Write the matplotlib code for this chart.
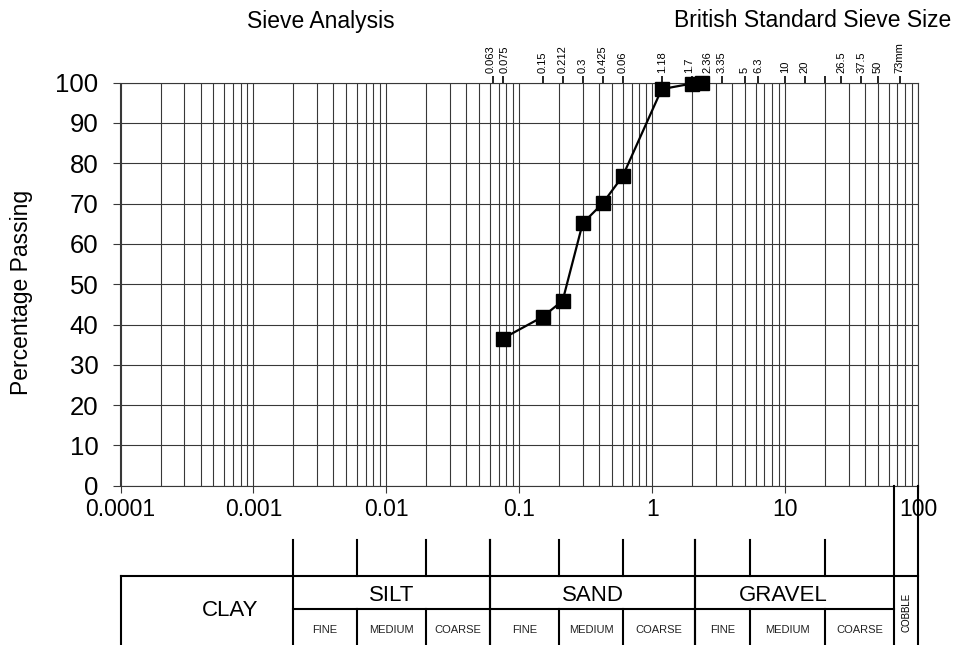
import matplotlib.pyplot as plt
import matplotlib.transforms as mtransforms
import numpy as np
from matplotlib.ticker import FixedLocator, NullLocator, LogLocator, NullFormatter

plt.rcParams['font.family'] = ['Liberation Sans', 'DejaVu Sans']

# grading curve
sieve_mm = [0.075, 0.15, 0.212, 0.3, 0.425, 0.6, 1.18, 2.0, 2.36]
passing = [36.5, 41.9, 45.9, 65.1, 70.1, 76.8, 98.4, 99.8, 100.0]

# british standard sieve ticks along the top (labels as printed)
top_ticks = [0.063, 0.075, 0.15, 0.212, 0.3, 0.425, 0.6, 1.18, 2.0, 2.36,
             3.35, 5, 6.3, 10, 14, 20, 26.5, 37.5, 50, 73]
top_labels = ['0.063', '0.075', '0.15', '0.212', '0.3', '0.425', '0.06', '1.18',
              '1.7', '2.36', '3.35', '5', '6.3', '10', '20', '', '26.5', '37.5',
              '50', '73mm']

x_ticks = [0.0001, 0.001, 0.01, 0.1, 1, 10, 100]
x_labels = ['0.0001', '0.001', '0.01', '0.1', '1', '10', '100']
y_ticks = list(range(0, 101, 10))

# soil classification bands
band_names = ['SILT', 'SAND', 'GRAVEL']
band_edges = [[0.002, 0.006, 0.02, 0.06],
              [0.06, 0.2, 0.6, 2.1],
              [2.1, 5.4, 20, 66]]
band_label_x = [0.011, 0.36, 9.7]
sub_names = ['FINE', 'MEDIUM', 'COARSE']

W, H = 956, 645
fig = plt.figure(figsize=(W / 100, H / 100), dpi=100)


def fy(p):
    # pixel row -> figure fraction
    return 1 - p / H


x0, x1 = 120.5, 918
ytop, ybot = 82.7, 485.7
ax = fig.add_axes([x0 / W, fy(ybot), (x1 - x0) / W, (ybot - ytop) / H])
gcol = '#383838'

ax.set_xscale('log')
ax.set_xlim(1e-4, 100)
ax.set_ylim(0, 100)
ax.xaxis.set_major_locator(FixedLocator(x_ticks))
ax.set_xticklabels(x_labels)
ax.xaxis.set_minor_locator(LogLocator(base=10, subs=np.arange(2, 10), numticks=100))
ax.xaxis.set_minor_formatter(NullFormatter())
ax.set_yticks(y_ticks)
ax.grid(True, which='both', color=gcol, lw=0.8)
ax.tick_params(axis='x', which='major', length=5, width=0.8, color=gcol,
               labelsize=16.5, pad=4)
ax.tick_params(axis='x', which='minor', length=0)
ax.tick_params(axis='y', length=5, width=0.8, color=gcol, labelsize=18.5, pad=11)
for s in ax.spines.values():
    s.set_color(gcol)
    s.set_linewidth(0.8)

ax.plot(sieve_mm, passing, color='black', lw=1.6, marker='s', ms=9.5,
        mfc='black', mec='black', zorder=5, clip_on=False)

# top axis with sieve sizes
top = ax.twiny()
top.set_xscale('log')
top.set_xlim(1e-4, 100)
top.xaxis.set_major_locator(FixedLocator(top_ticks))
top.set_xticklabels(top_labels, rotation=90, fontsize=8)
top.xaxis.set_minor_locator(NullLocator())
top.tick_params(axis='x', length=5, width=1.2, color='black', pad=2)
for s in top.spines.values():
    s.set_visible(False)

# nudge the crowded labels apart a little (pixels)
nudge = {'0.063': -2, '0.075': 2, '1.7': -3, '2.36': 6}
for lab in top.get_xticklabels():
    dx = nudge.get(lab.get_text(), 0)
    if dx:
        lab.set_transform(lab.get_transform() +
                          mtransforms.ScaledTranslation(dx / 100, 0, fig.dpi_scale_trans))

fig.text(22 / W, fy(292), 'Percentage Passing', rotation=90, ha='center',
         va='center', fontsize=16.5)
fig.text(321 / W, fy(28), 'Sieve Analysis', ha='center', va='baseline', fontsize=16.5)
fig.text(951 / W, fy(27), 'British Standard Sieve Size', ha='right', va='baseline',
         fontsize=16.5)

# classification table under the chart, same log x scale, y in pixel rows
tb = fig.add_axes([x0 / W, 0, (x1 - x0) / W, (H - ybot) / H])
tb.set_xscale('log')
tb.set_xlim(1e-4, 100)
tb.set_ylim(H, ybot)
tb.axis('off')

lw = 1.5
kw = dict(color='black', lw=lw, clip_on=False)
y_mark, y_head, y_mid = 540, 576, 609

# header lines
tb.plot([1e-4, 100], [y_head, y_head], **kw)
tb.plot([band_edges[0][0], band_edges[-1][-1]], [y_mid, y_mid], **kw)
tb.plot([1e-4, 1e-4], [y_head, H], **kw)
tb.plot([100, 100], [ybot, H], **kw)
tb.plot([band_edges[-1][-1]] * 2, [ybot, H], **kw)

for name, edges, lx in zip(band_names, band_edges, band_label_x):
    for i, e in enumerate(edges):
        if e == band_edges[-1][-1]:
            continue
        if i in (0, 3):
            tb.plot([e, e], [y_mark, H], **kw)
        else:
            tb.plot([e, e], [y_mark, y_head], **kw)
            tb.plot([e, e], [y_mid, H], **kw)
    tb.text(lx, (y_head + y_mid) / 2 + 3, name, ha='center', va='center', fontsize=16)
    for j, sub in enumerate(sub_names):
        cx = np.sqrt(edges[j] * edges[j + 1])
        tb.text(cx, 630, sub, ha='center', va='center', fontsize=8, color='#222222')

tb.text(6.7e-4, 610, 'CLAY', ha='center', va='center', fontsize=16)
tb.text(np.sqrt(66 * 100), 612, 'COBBLE', ha='center', va='center', rotation=90,
        fontsize=7)

fig.savefig('out.png', dpi=100)
